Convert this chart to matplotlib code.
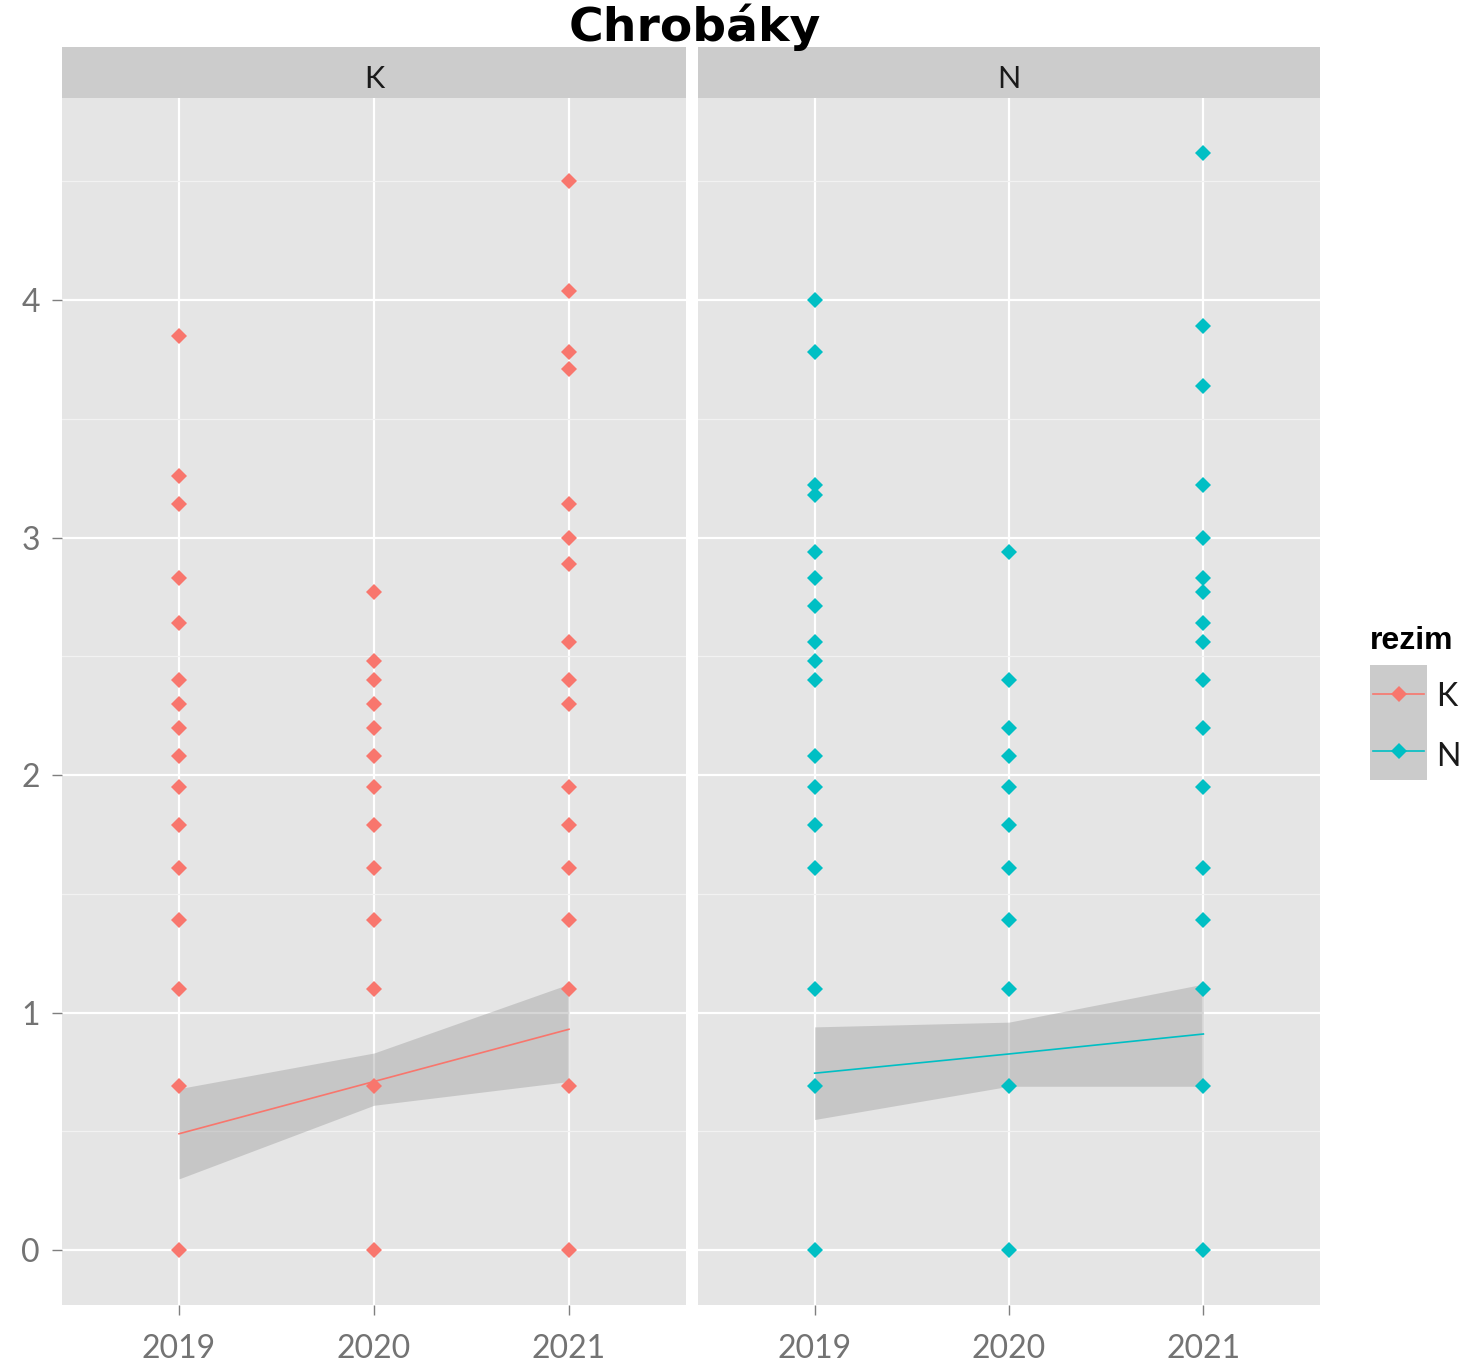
import matplotlib
matplotlib.use("Agg")
import matplotlib.pyplot as plt

# values per regime / year (log-scale counts)
years = [2019, 2020, 2021]

k_2019 = [3.85, 3.26, 3.14, 2.83, 2.64, 2.40, 2.30, 2.20, 2.08, 1.95, 1.79, 1.61, 1.39, 1.10, 0.69, 0.00]
k_2020 = [2.77, 2.48, 2.40, 2.30, 2.20, 2.08, 1.95, 1.79, 1.61, 1.39, 1.10, 0.69, 0.00]
k_2021 = [4.50, 4.04, 3.78, 3.71, 3.14, 3.00, 2.89, 2.56, 2.40, 2.30, 1.95, 1.79, 1.61, 1.39, 1.10, 0.69, 0.00]

n_2019 = [4.00, 3.78, 3.22, 3.18, 2.94, 2.83, 2.71, 2.56, 2.48, 2.40, 2.08, 1.95, 1.79, 1.61, 1.10, 0.69, 0.00]
n_2020 = [2.94, 2.40, 2.20, 2.08, 1.95, 1.79, 1.61, 1.39, 1.10, 0.69, 0.00]
n_2021 = [4.62, 3.89, 3.64, 3.22, 3.00, 2.83, 2.77, 2.64, 2.56, 2.40, 2.20, 1.95, 1.61, 1.39, 1.10, 0.69, 0.00]

# linear trend with confidence band at each year
k_fit = [0.49, 0.71, 0.93]
k_lo = [0.30, 0.61, 0.71]
k_hi = [0.68, 0.83, 1.12]
n_fit = [0.745, 0.826, 0.91]
n_lo = [0.55, 0.69, 0.69]
n_hi = [0.94, 0.96, 1.12]

regimes = ["K", "N"]
colors = {"K": "#F8766D", "N": "#00BFC4"}
data = {"K": [k_2019, k_2020, k_2021], "N": [n_2019, n_2020, n_2021]}
fits = {"K": (k_fit, k_lo, k_hi), "N": (n_fit, n_lo, n_hi)}

W, H = 1468, 1364
fig = plt.figure(figsize=(W / 100, H / 100), dpi=100)

tick_font = dict(family=["Lato", "DejaVu Sans"])

def px_box(x0, x1, y0, y1):
    return [x0 / W, 1 - y1 / H, (x1 - x0) / W, (y1 - y0) / H]

panels = [(62, 686), (698, 1320)]
for i, (reg, (x0, x1)) in enumerate(zip(regimes, panels)):
    ax = fig.add_axes(px_box(x0, x1, 98, 1305))
    ax.set_facecolor("#E5E5E5")
    for s in ax.spines.values():
        s.set_visible(False)
    ax.set_xlim(2018.4, 2021.6)
    ax.set_ylim(-0.231, 4.851)

    ax.set_yticks([0, 1, 2, 3, 4])
    ax.set_yticks([0.5, 1.5, 2.5, 3.5, 4.5], minor=True)
    ax.set_xticks(years)
    ax.grid(which="major", color="white", linewidth=1.6)
    ax.grid(which="minor", axis="y", color="#F2F2F2", linewidth=0.9)
    ax.set_axisbelow(True)
    ax.tick_params(which="minor", length=0)
    ax.tick_params(which="major", length=7, width=1.0, color="#7F7F7F",
                   labelsize=23, labelcolor="#737373")
    ax.tick_params(axis="x", pad=14)
    ax.tick_params(axis="y", pad=9)
    ax.set_xticklabels([str(y) for y in years], **tick_font)
    if i == 0:
        ax.set_yticklabels(["0", "1", "2", "3", "4"], **tick_font)
    else:
        ax.tick_params(axis="y", left=False, labelleft=False)

    fit, lo, hi = fits[reg]
    ax.fill_between(years, lo, hi, color="#999999", alpha=0.4, linewidth=0, zorder=2)
    ax.plot(years, fit, color=colors[reg], linewidth=1.2, zorder=3)
    for yr, vals in zip(years, data[reg]):
        ax.plot([yr] * len(vals), vals, linestyle="none", marker="D", markersize=8,
                color=colors[reg], markeredgewidth=0, zorder=4)

    # facet strip
    sax = fig.add_axes(px_box(x0, x1, 47, 98))
    sax.set_facecolor("#CCCCCC")
    sax.set_xticks([])
    sax.set_yticks([])
    for s in sax.spines.values():
        s.set_visible(False)
    sax.text(0.5, 0.37, reg, ha="center", va="center", fontsize=22,
             color="#1A1A1A", transform=sax.transAxes, **tick_font)

fig.text(695 / W, 1 - 27 / H, "Chrobáky", ha="center", va="center",
         fontsize=34, fontweight="bold", family="DejaVu Sans")

# legend
fig.text(1370 / W, 1 - 641 / H, "rezim", ha="left", va="center", fontsize=23,
         fontweight="bold", family="Liberation Sans")
lax = fig.add_axes(px_box(1370, 1427, 665, 780))
lax.set_facecolor("#CBCBCB")
lax.set_xlim(0, 1)
lax.set_ylim(0, 2)
lax.set_xticks([])
lax.set_yticks([])
for s in lax.spines.values():
    s.set_visible(False)
for j, reg in enumerate(regimes):
    yk = 1.5 - j
    lax.plot([0.05, 0.95], [yk, yk], color=colors[reg], linewidth=1.2)
    lax.plot([0.5], [yk], marker="D", markersize=8, color=colors[reg], markeredgewidth=0)
    fig.text(1436 / W, 1 - (697 + 60 * j) / H, reg, ha="left", va="center",
             fontsize=23, color="#1A1A1A", **tick_font)

fig.savefig("out.png", dpi=100, facecolor="white")
